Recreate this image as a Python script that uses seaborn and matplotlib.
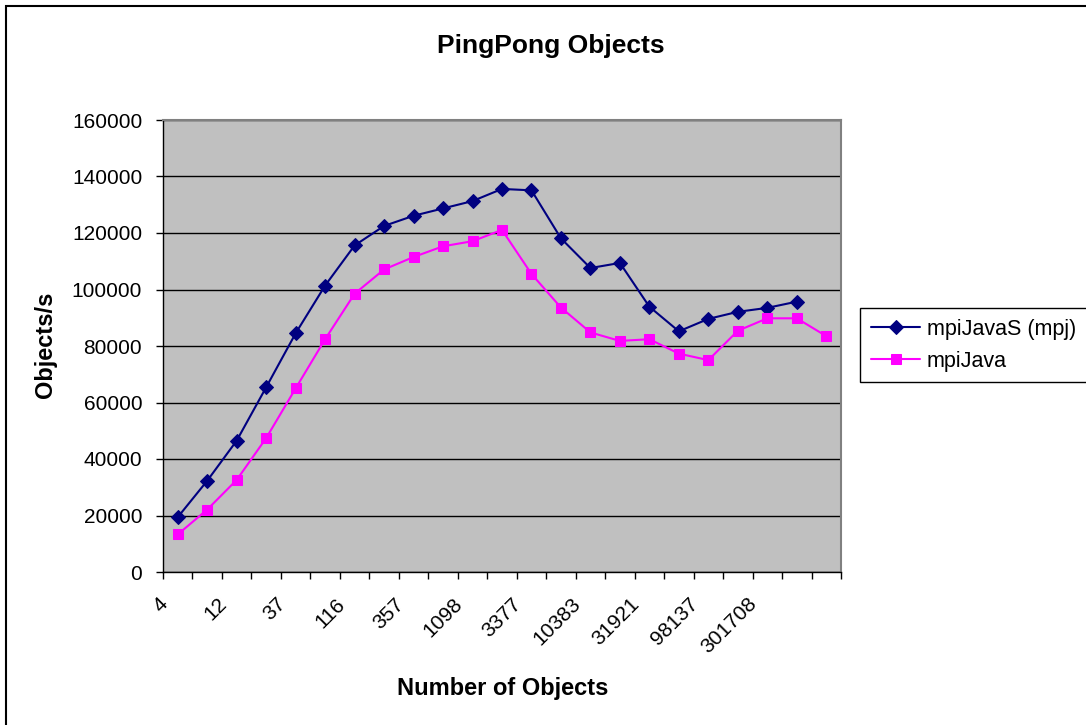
import matplotlib
matplotlib.use("Agg")
import matplotlib.pyplot as plt
from matplotlib.patches import Rectangle
from matplotlib.ticker import FixedLocator, MultipleLocator
from matplotlib.transforms import ScaledTranslation
import numpy as np
import pandas as pd
import seaborn as sns

# Category axis: every other category carries a printed label
tick_labels = ["4", "", "12", "", "37", "", "116", "", "357", "", "1098", "",
               "3377", "", "10383", "", "31921", "", "98137", "", "301708", "", ""]

mpj_rates = [19400, 32300, 46500, 65400, 84500, 101400, 115600, 122500, 126100,
             128700, 131300, 135600, 135100, 118100, 107600, 109400, 93900,
             85200, 89600, 92100, 93500, 95700]
mpijava_rates = [13300, 22100, 32600, 47400, 65000, 82400, 98500, 107100, 111500,
                 115300, 117100, 121100, 105500, 93600, 84800, 81800, 82400,
                 77300, 75000, 85400, 89800, 89800, 83500]

series_names = ["mpiJavaS (mpj)", "mpiJava"]
series_colors = ["#000080", "#FF00FF"]
series_markers = ["D", "s"]
series_sizes = [7.5, 7.5]

frames = []
for name, vals in zip(series_names, [mpj_rates, mpijava_rates]):
    frames.append(pd.DataFrame({"pos": np.arange(len(vals)), "rate": vals, "series": name}))
df = pd.concat(frames, ignore_index=True)

sns.set_style("white")
plt.rcParams["font.family"] = ["Liberation Sans", "DejaVu Sans"]
plt.rcParams["text.color"] = "black"
plt.rcParams["axes.labelcolor"] = "black"
plt.rcParams["xtick.color"] = "black"
plt.rcParams["ytick.color"] = "black"

W, H = 1086, 725
fig = plt.figure(figsize=(W / 100, H / 100), dpi=100)
fig.patch.set_facecolor("white")

left, right, top, bottom = 163, 841, 120, 572
ax = fig.add_axes([left / W, 1 - bottom / H, (right - left) / W, (bottom - top) / H])
ax.set_facecolor("#C0C0C0")

for name, color, marker, ms in zip(series_names, series_colors, series_markers, series_sizes):
    sub = df[df["series"] == name]
    sns.lineplot(data=sub, x="pos", y="rate", ax=ax, color=color, marker=marker,
                 markersize=ms, markeredgecolor=color, markerfacecolor=color,
                 linewidth=1.5, label=name, legend=False, zorder=3)

ax.set_xlim(-0.5, len(tick_labels) - 0.5)
ax.set_ylim(0, 160000)
ax.yaxis.set_major_locator(MultipleLocator(20000))
ax.grid(axis="y", color="black", linewidth=1.0)
ax.grid(axis="x", visible=False)
ax.set_axisbelow(True)

# x: labels at category centres, tick marks at category boundaries
ax.set_xticks(np.arange(len(tick_labels)))
ax.xaxis.set_minor_locator(FixedLocator(np.arange(len(tick_labels) + 1) - 0.5))
ax.tick_params(axis="x", which="major", length=0, pad=26)
ax.tick_params(axis="x", which="minor", length=5, width=1, color="black", direction="out", bottom=True)
ax.tick_params(axis="y", length=5, width=1, color="black", direction="out", left=True,
               labelsize=15, pad=10, labelcolor="black")
ax.set_yticklabels([str(int(v)) for v in ax.get_yticks()])
ax.set_xticklabels(tick_labels, rotation=45, ha="right", va="center",
                   rotation_mode="anchor", fontsize=15, color="black")
# nudge the slanted labels so their ends sit just left of the category centre
shift = ScaledTranslation(-13 / 100, 7 / 100, fig.dpi_scale_trans)
for lbl in ax.get_xticklabels():
    lbl.set_transform(lbl.get_transform() + shift)

for side in ["left", "bottom"]:
    ax.spines[side].set_color("black")
    ax.spines[side].set_linewidth(1.0)
for side in ["top", "right"]:
    ax.spines[side].set_color("#808080")
    ax.spines[side].set_linewidth(1.5)

ax.set_xlabel("")
ax.set_ylabel("")

fig.text(551 / W, 1 - 46 / H, "PingPong Objects", ha="center", va="center",
         fontsize=19, fontweight="bold", color="black")
fig.text(503 / W, 1 - 689 / H, "Number of Objects", ha="center", va="center",
         fontsize=17, fontweight="bold", color="black")
fig.text(45 / W, 1 - 345 / H, "Objects/s", ha="center", va="center", rotation=90,
         fontsize=17, fontweight="bold", color="black")

leg = ax.legend(loc="upper left", bbox_to_anchor=(860 / W, 1 - 308 / H),
                bbox_transform=fig.transFigure, borderaxespad=0, fontsize=15.5,
                frameon=True, fancybox=False, framealpha=1, edgecolor="black",
                handlelength=2.3, handletextpad=0.3, labelspacing=0.5, borderpad=0.5)
leg.get_frame().set_linewidth(1.0)
for t in leg.get_texts():
    t.set_color("black")

# outer chart border
fig.patches.append(Rectangle((6 / W, -0.2), 1.5, 1 - 6 / H + 0.2, transform=fig.transFigure,
                             fill=False, edgecolor="black", linewidth=1.5))

fig.savefig("out.png", dpi=100)
